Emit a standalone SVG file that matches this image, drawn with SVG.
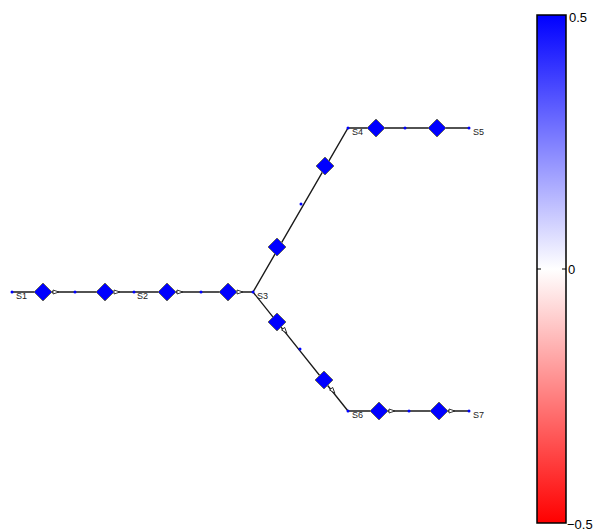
<svg xmlns="http://www.w3.org/2000/svg" width="614" height="531" viewBox="0 0 614 531">
<style>
.ln{stroke:#1a1a1a;stroke-width:1.4;fill:none}
.dm{fill:#0000ff;stroke:#666;stroke-width:1}
.pt{fill:#0000ff}
.lb{font-family:"Liberation Sans",Arial,sans-serif;font-size:9px;fill:#222}
.cb{font-family:"Liberation Sans",Arial,sans-serif;font-size:13px;fill:#000}
.ar{fill:#fff;stroke:#222;stroke-width:0.9}
</style>
<defs>
<linearGradient id="cg" x1="0" y1="0" x2="0" y2="1">
<stop offset="0" stop-color="#0000ff"/>
<stop offset="0.5" stop-color="#ffffff"/>
<stop offset="1" stop-color="#ff0000"/>
</linearGradient>
<path id="d" d="M0,-9 L9,0 L0,9 L-9,0 Z"/>
<path id="a" d="M-3,-2 L3,0 L-3,2 Z"/>
</defs>
<rect width="614" height="531" fill="#fff"/>
<g id="connectors">
<path class="ln" d="M12,292 H253 L348,128 H469"/>
<path class="ln" d="M253,292 L348,411 H469"/>
</g>
<g id="arrows">
<use href="#a" class="ar" transform="translate(56,292)"/>
<use href="#a" class="ar" transform="translate(117,292)"/>
<use href="#a" class="ar" transform="translate(180,292)"/>
<use href="#a" class="ar" transform="translate(240,292)"/>
<use href="#a" class="ar" transform="translate(285,331) rotate(51)"/>
<use href="#a" class="ar" transform="translate(333,391) rotate(51)"/>
<use href="#a" class="ar" transform="translate(392,411)"/>
<use href="#a" class="ar" transform="translate(452,411)"/>
</g>
<g id="S1"><circle class="pt" cx="12" cy="292" r="1.5"/><text class="lb" x="16" y="299">S1</text></g>
<g id="S2"><circle class="pt" cx="134" cy="292" r="1.5"/><text class="lb" x="137" y="299">S2</text></g>
<g id="S3"><circle class="pt" cx="253" cy="292" r="1.5"/><text class="lb" x="257" y="299">S3</text></g>
<g id="S4"><circle class="pt" cx="348" cy="128" r="1.5"/><text class="lb" x="352" y="135">S4</text></g>
<g id="S5"><circle class="pt" cx="469" cy="128" r="1.5"/><text class="lb" x="473" y="135">S5</text></g>
<g id="S6"><circle class="pt" cx="348" cy="411" r="1.5"/><text class="lb" x="352" y="418">S6</text></g>
<g id="S7"><circle class="pt" cx="469" cy="411" r="1.5"/><text class="lb" x="473" y="418">S7</text></g>
<g id="midpoints">
<circle class="pt" cx="75" cy="292" r="1.5"/>
<circle class="pt" cx="201" cy="292" r="1.5"/>
<circle class="pt" cx="301" cy="204" r="1.5"/>
<circle class="pt" cx="405" cy="128" r="1.5"/>
<circle class="pt" cx="300" cy="349" r="1.5"/>
<circle class="pt" cx="409" cy="411" r="1.5"/>
</g>
<g id="diamonds">
<use href="#d" class="dm" transform="translate(43,292)"/>
<use href="#d" class="dm" transform="translate(105,292)"/>
<use href="#d" class="dm" transform="translate(167,292)"/>
<use href="#d" class="dm" transform="translate(228,292)"/>
<use href="#d" class="dm" transform="translate(277,247)"/>
<use href="#d" class="dm" transform="translate(325,166)"/>
<use href="#d" class="dm" transform="translate(376,128)"/>
<use href="#d" class="dm" transform="translate(437,128)"/>
<use href="#d" class="dm" transform="translate(277,322)"/>
<use href="#d" class="dm" transform="translate(324,380)"/>
<use href="#d" class="dm" transform="translate(379,411)"/>
<use href="#d" class="dm" transform="translate(439,411)"/>
</g>
<g id="colorbar">
<rect x="537" y="15" width="29" height="508" fill="url(#cg)" stroke="#000" stroke-width="1.5"/>
<path d="M537,269 h4 M566,269 h-4" stroke="#000" stroke-width="1"/>
<text class="cb" x="569" y="22">0.5</text>
<text class="cb" x="568" y="274">0</text>
<text class="cb" x="567" y="529">−0.5</text>
</g>
</svg>
